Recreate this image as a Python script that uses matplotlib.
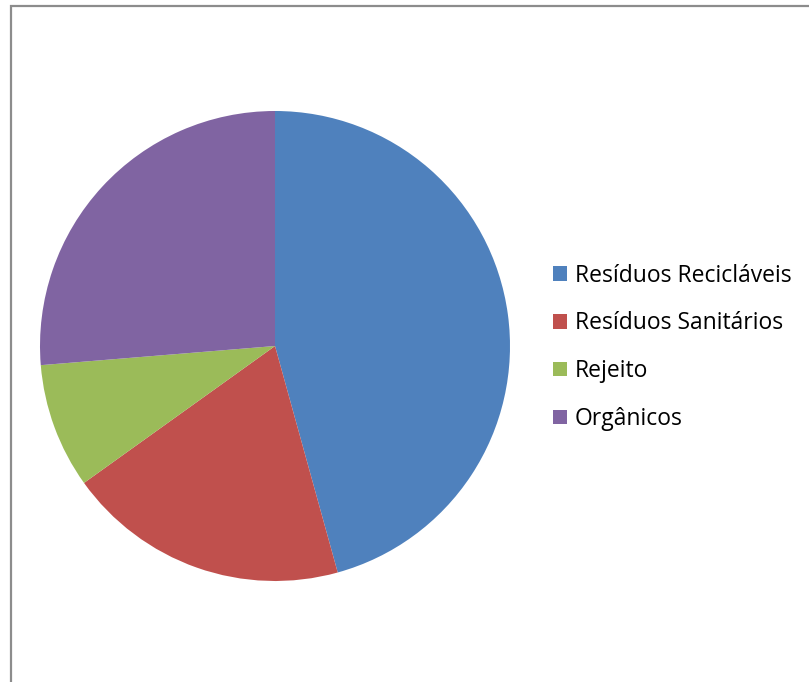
import matplotlib.pyplot as plt
from matplotlib.patches import Rectangle

labels = ["Resíduos Recicláveis", "Resíduos Sanitários", "Rejeito", "Orgânicos"]
values = [45.7, 19.4, 8.6, 26.3]
colors = ["#4F81BD", "#C0504D", "#9BBB59", "#8064A2"]

W, H = 809, 682
fig = plt.figure(figsize=(W / 100, H / 100), dpi=100)

# chart area border (right and bottom run off the image)
fig.patches.append(Rectangle((10.5 / W, -0.1), 1.2, (H - 6) / H + 0.1,
                             transform=fig.transFigure, fill=False,
                             edgecolor="#8c8c8c", linewidth=1.6))

cx, cy, r = 275, 346, 235
ax = fig.add_axes([(cx - r) / W, (H - cy - r) / H, 2 * r / W, 2 * r / H])
wedges, _ = ax.pie(values, colors=colors, startangle=90, counterclock=False,
                   radius=1.0, wedgeprops=dict(linewidth=0))
ax.set_xlim(-1, 1)
ax.set_ylim(-1, 1)
ax.set_aspect("equal")
ax.axis("off")

leg = fig.legend(wedges, labels, loc="upper left",
                 bbox_to_anchor=(553 / W, (H - 263.5) / H),
                 frameon=False, prop={"family": "Open Sans", "size": 16.5},
                 handlelength=0.6, handleheight=0.6, handletextpad=0.35,
                 labelspacing=1.04, borderpad=0, borderaxespad=0)

fig.savefig("out.png", dpi=100)
